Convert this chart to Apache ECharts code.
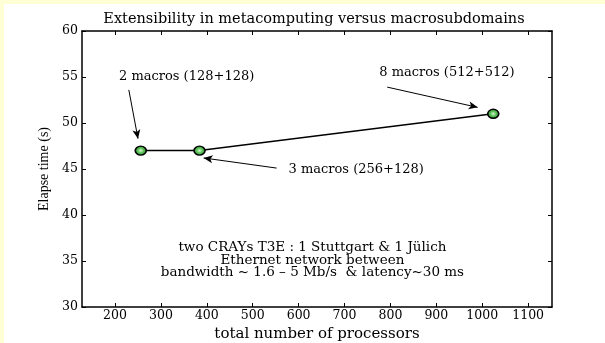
<!DOCTYPE html>
<html>
<head>
<meta charset="utf-8">
<script src="https://cdn.jsdelivr.net/npm/echarts@6/dist/echarts.min.js"></script>
<style>
  html, body { margin: 0; padding: 0; background: #FFFFD6; }
  #frame { position: absolute; left: 4px; top: 4px; width: 601px; height: 339px; background: #ffffff; }
  #chart { position: absolute; left: 0; top: 0; width: 605px; height: 343px; }
</style>
</head>
<body>
<div id="frame"></div>
<div id="chart"></div>
<script>
// Measured runs: total processors vs elapsed time
const processors = [256, 384, 1024];
const elapsed = [47, 47, 51];
const xTicks = [200, 300, 400, 500, 600, 700, 800, 900, 1000, 1100];

// Annotation texts and their anchor positions (data units)
const noteTexts = ['2 macros (128+128)', '3 macros (256+128)', '8 macros (512+512)',
  'two CRAYs T3E : 1 Stuttgart & 1 Jülich\nEthernet network between\nbandwidth ~ 1.6 – 5 Mb/s  & latency~30 ms'];
const noteX = [356, 578, 923, 630];
const noteY = [55.0, 44.9, 55.5, 35.1];
const noteAlign = ['center', 'left', 'center', 'center'];

// Arrows: [fromX, fromY, toX, toY]
const arrows = [
  [230, 53.6, 250, 48.3],
  [552, 45.1, 393, 46.2],
  [793, 53.9, 990, 51.7]
];

const FONT = '"DejaVu Serif", serif';
const FONT_Y = '"Liberation Serif", "Times New Roman", serif';
const chart = echarts.init(document.getElementById('chart'), null, { renderer: 'canvas' });

const axisLine = { show: true, lineStyle: { color: '#000', width: 1.5 } };
const tickIn = { show: true, inside: true, length: 4, lineStyle: { color: '#000', width: 1 } };

chart.setOption({
  backgroundColor: 'transparent',
  animation: false,
  title: {
    text: 'Extensibility in metacomputing versus macrosubdomains',
    left: 309, top: 7, textAlign: 'center',
    textStyle: { fontFamily: FONT, fontSize: 14.5, fontWeight: 'normal', color: '#000' }
  },
  grid: { left: 82, right: 53, top: 31, bottom: 36, containLabel: false, outerBoundsMode: 'none' },
  xAxis: [{
    type: 'value', min: 128, max: 1152, position: 'bottom',
    name: 'total number of processors', nameLocation: 'middle', nameGap: 13,
    nameTextStyle: { fontFamily: FONT, fontSize: 15, color: '#000' },
    axisLine: axisLine,
    axisTick: Object.assign({}, tickIn, { customValues: xTicks }),
    axisLabel: { customValues: xTicks, formatter: v => String(v), fontFamily: FONT, fontSize: 12.5, color: '#000', margin: 2 },
    splitLine: { show: false }
  }, {
    type: 'value', min: 128, max: 1152, position: 'top',
    axisLine: axisLine,
    axisTick: Object.assign({}, tickIn, { customValues: xTicks }),
    axisLabel: { show: false },
    splitLine: { show: false }
  }],
  yAxis: [{
    type: 'value', min: 30, max: 60, interval: 5, position: 'left',
    name: 'Elapse time (s)', nameLocation: 'middle', nameGap: 29,
    nameTextStyle: { fontFamily: FONT_Y, fontSize: 14, color: '#000' },
    axisLine: axisLine, axisTick: tickIn,
    axisLabel: { fontFamily: FONT, fontSize: 12.5, color: '#000', margin: 4 },
    splitLine: { show: false }
  }, {
    type: 'value', min: 30, max: 60, interval: 5, position: 'right',
    axisLine: axisLine, axisTick: tickIn,
    axisLabel: { show: false },
    splitLine: { show: false }
  }],
  series: [{
    type: 'line',
    data: processors.map((p, i) => [p, elapsed[i]]),
    lineStyle: { color: '#000', width: 1.5 },
    symbol: 'circle', symbolSize: [11, 9],
    itemStyle: {
      color: {
        type: 'radial', x: 0.5, y: 0.5, r: 0.5,
        colorStops: [{ offset: 0, color: '#d8f5d0' }, { offset: 0.45, color: '#5cc35a' }, { offset: 1, color: '#2e8b2e' }]
      },
      borderColor: '#000', borderWidth: 1.5
    },
    z: 3,
    markLine: {
      silent: true, animation: false,
      symbol: ['none', 'arrow'], symbolSize: [6, 9],
      label: { show: false },
      lineStyle: { color: '#000', width: 1, type: 'solid' },
      data: arrows.map(a => [{ coord: [a[0], a[1]] }, { coord: [a[2], a[3]] }])
    }
  }, {
    type: 'scatter',
    itemStyle: { opacity: 1 },
    data: noteX.map((x, i) => ({
      value: [x, noteY[i]],
      label: {
        show: true, position: 'inside', formatter: noteTexts[i], align: noteAlign[i],
        fontFamily: FONT, fontSize: i === 3 ? 13.5 : 13, color: '#000', opacity: 1,
        textBorderWidth: 0, lineHeight: 12.5
      }
    })),
    symbolSize: 0, silent: true
  }]
});
</script>
</body>
</html>
